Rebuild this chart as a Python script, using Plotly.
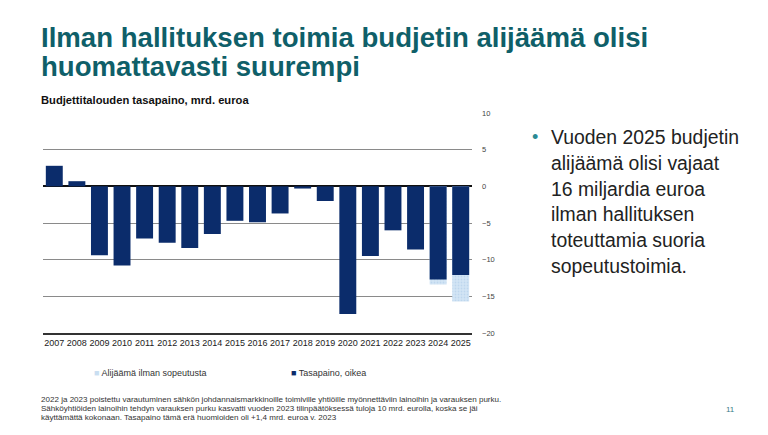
import plotly.graph_objects as go

years = [str(y) for y in range(2007, 2026)]
tasapaino = [2.8, 0.7, -9.4, -10.8, -7.1, -7.7, -8.4, -6.5, -4.7, -4.9, -3.7, -0.3,
             -2.0, -17.4, -9.5, -6.0, -8.6, -12.7, -12.1]
ilman_sopeutusta = [None] * 17 + [-13.4, -15.7]
y_ticks = [10, 5, 0, -5, -10, -15, -20]

title_lines = ["Ilman hallituksen toimia budjetin alijäämä olisi", "huomattavasti suurempi"]
subtitle = "Budjettitalouden tasapaino, mrd. euroa"
bullet_lines = ["Vuoden 2025 budjetin", "alijäämä olisi vajaat", "16 miljardia euroa",
                "ilman hallituksen", "toteuttamia suoria", "sopeutustoimia."]
footnote_lines = [
    "2022 ja 2023 poistettu varautuminen sähkön johdannaismarkkinoille toimiville yhtiöille myönnettäviin lainoihin ja varauksen purku.",
    "Sähköyhtiöiden lainoihin tehdyn varauksen purku kasvatti vuoden 2023 tilinpäätöksessä tuloja 10 mrd. eurolla, koska se jäi",
    "käyttämättä kokonaan. Tasapaino tämä erä huomioiden oli +1,4 mrd. euroa v. 2023",
]
legend_names = ["Alijäämä ilman sopeutusta", "Tasapaino, oikea"]
page_no = "11"

TEAL = "#0f5f69"
NAVY = "#0b2c6b"
LIGHT = "#c9def1"
NARROW = "Liberation Sans Narrow, Arial Narrow, Liberation Sans, Arial, sans-serif"
SANS = "Liberation Sans, Arial, sans-serif"

# page body offset (screen pixels)
OFF = 8
W, H = 768 - OFF, 435 - OFF
# plot area in screen pixels
X0, X1, Y0, Y1 = 43.3, 471.7, 113.3, 333.3
L, R, T, B = X0 - OFF, W - (X1 - OFF), Y0 - OFF, H - (Y1 - OFF)
pw, ph = X1 - X0, Y1 - Y0


def px(x):
    return (x - X0) / pw


def py(y):
    return (Y1 - y) / ph


fig = go.Figure()
fig.add_trace(go.Bar(
    x=years, y=ilman_sopeutusta, name=legend_names[0], showlegend=False,
    marker=dict(color=LIGHT, line=dict(width=0),
                pattern=dict(shape=".", fgcolor="#a9c9e6", bgcolor="#d3e5f5", size=3, solidity=0.3)),
))
fig.add_trace(go.Bar(
    x=years, y=tasapaino, name=legend_names[1], showlegend=False,
    marker=dict(color=NAVY, line=dict(width=0)),
))

ann = []
ann.append(dict(text="<b>" + title_lines[0] + "</b>", x=px(39), y=py(38), xanchor="left", yanchor="middle",
                font=dict(family=NARROW, size=27.6, color=TEAL)))
ann.append(dict(text="<b>" + title_lines[1] + "</b>", x=px(39), y=py(67), xanchor="left", yanchor="middle",
                font=dict(family=NARROW, size=27.6, color=TEAL)))
ann.append(dict(text="<b>" + subtitle + "</b>", x=px(39), y=py(100), xanchor="left", yanchor="middle",
                font=dict(family=NARROW, size=11.2, color="#111")))
for i, line in enumerate(bullet_lines):
    ann.append(dict(text=line, x=px(549), y=py(137 + i * 25.9), xanchor="left", yanchor="middle",
                    font=dict(family=SANS, size=19.4, color="#222")))
ann.append(dict(text="•", x=px(530), y=py(137.5), xanchor="left", yanchor="middle",
                font=dict(family=SANS, size=18, color="#2a8a94")))
for i, line in enumerate(footnote_lines):
    ann.append(dict(text=line, x=px(39), y=py(400 + i * 8.7), xanchor="left", yanchor="middle",
                    font=dict(family=SANS, size=8.05, color="#333")))
ann.append(dict(text=page_no, x=px(730), y=py(410), xanchor="center", yanchor="middle",
                font=dict(family=SANS, size=8, color="#3a7d86")))
# legend entries
for xpos, name, col in [(92, legend_names[0], LIGHT), (289, legend_names[1], NAVY)]:
    ann.append(dict(text=f'<span style="color:{col}">■</span> {name}', x=px(xpos), y=py(373),
                    xanchor="left", yanchor="middle", font=dict(family=SANS, size=9, color="#333")))
for a in ann:
    a.update(xref="paper", yref="paper", showarrow=False)

fig.update_layout(
    width=W, height=H, autosize=False,
    margin=dict(l=L, r=R, t=T, b=B, pad=0),
    paper_bgcolor="white", plot_bgcolor="white",
    barmode="overlay", bargap=0.25,
    showlegend=False,
    annotations=ann,
    shapes=[dict(type="rect", xref="paper", yref="paper", x0=px(762), x1=px(790), y0=py(-10), y1=py(450),
                 fillcolor="#f1f1f1", line=dict(width=0), layer="below")],
    xaxis=dict(type="category", range=[-0.5, 18.5], showgrid=False, showline=True,
               linecolor="#333", linewidth=1.5, ticks="", tickangle=0,
               tickfont=dict(family=SANS, size=9, color="#222")),
    yaxis=dict(side="right", range=[-20, 10], tickvals=y_ticks, showgrid=True, gridcolor="#8a8a8a",
               gridwidth=1, zeroline=True, zerolinecolor="#111", zerolinewidth=2, showline=False,
               ticks="", tickfont=dict(family=SANS, size=7.5, color="#444"), ticklabelstandoff=9),
    font=dict(family=SANS),
)

fig.write_html("out.html")
